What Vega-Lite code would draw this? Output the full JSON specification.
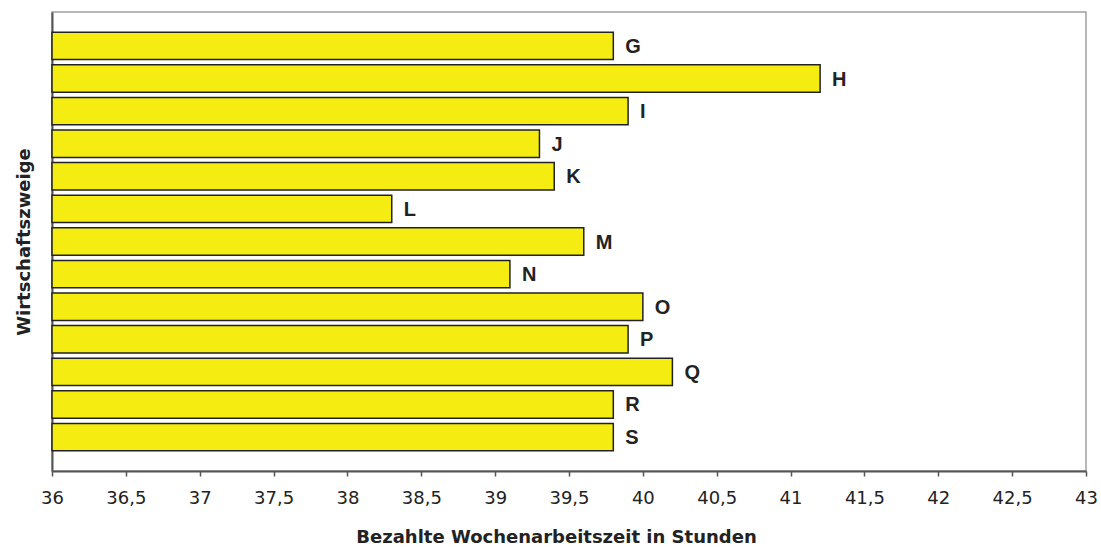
{
  "$schema": "https://vega.github.io/schema/vega-lite/v6.json",
  "autosize": "none",
  "padding": {"left": 52, "top": 12, "right": 15, "bottom": 76},
  "width": 1034,
  "height": 459,
  "background": "white",
  "config": {
    "view": {"stroke": "#a0a0a0", "strokeWidth": 1.5},
    "font": "Liberation Sans"
  },
  "data": {
    "values": [
      {"zweig": "G", "stunden": 39.8},
      {"zweig": "H", "stunden": 41.2},
      {"zweig": "I", "stunden": 39.9},
      {"zweig": "J", "stunden": 39.3},
      {"zweig": "K", "stunden": 39.4},
      {"zweig": "L", "stunden": 38.3},
      {"zweig": "M", "stunden": 39.6},
      {"zweig": "N", "stunden": 39.1},
      {"zweig": "O", "stunden": 40.0},
      {"zweig": "P", "stunden": 39.9},
      {"zweig": "Q", "stunden": 40.2},
      {"zweig": "R", "stunden": 39.8},
      {"zweig": "S", "stunden": 39.8}
    ]
  },
  "encoding": {
    "y": {
      "field": "zweig",
      "type": "nominal",
      "sort": null,
      "scale": {"paddingInner": 0.16, "paddingOuter": 0.62},
      "axis": {
        "title": "Wirtschaftszweige",
        "labels": false,
        "ticks": false,
        "domainColor": "#555555",
        "domainWidth": 2,
        "titleFont": "DejaVu Sans",
        "titleFontSize": 18,
        "titleFontWeight": "bold",
        "titleColor": "#222222",
        "titlePadding": 19
      }
    },
    "x": {
      "field": "stunden",
      "type": "quantitative",
      "scale": {"domain": [36, 43], "zero": false, "nice": false},
      "axis": {
        "title": "Bezahlte Wochenarbeitszeit in Stunden",
        "titleX": 504,
        "values": [36, 36.5, 37, 37.5, 38, 38.5, 39, 39.5, 40, 40.5, 41, 41.5, 42, 42.5, 43],
        "format": ",.1~f",
        "labelExpr": "replace(datum.label, '.', ',')",
        "grid": false,
        "domainColor": "#555555",
        "domainWidth": 2,
        "tickColor": "#555555",
        "tickWidth": 1.5,
        "tickSize": 5,
        "labelFont": "DejaVu Sans",
        "labelFontSize": 18,
        "labelColor": "#222222",
        "labelPadding": 13,
        "labelFlush": false,
        "titleFont": "DejaVu Sans",
        "titleFontSize": 18,
        "titleFontWeight": "bold",
        "titleColor": "#222222",
        "titlePadding": 21
      }
    }
  },
  "layer": [
    {
      "mark": {"type": "bar", "color": "#F5EC12", "stroke": "#222222", "strokeWidth": 1.5},
      "encoding": {"x2": {"datum": 36}}
    },
    {
      "mark": {"type": "text", "align": "left", "baseline": "middle", "dx": 12, "dy": 1, "fontSize": 20, "fontWeight": "bold", "color": "#222222", "font": "Liberation Sans"},
      "encoding": {"text": {"field": "zweig"}}
    }
  ]
}
